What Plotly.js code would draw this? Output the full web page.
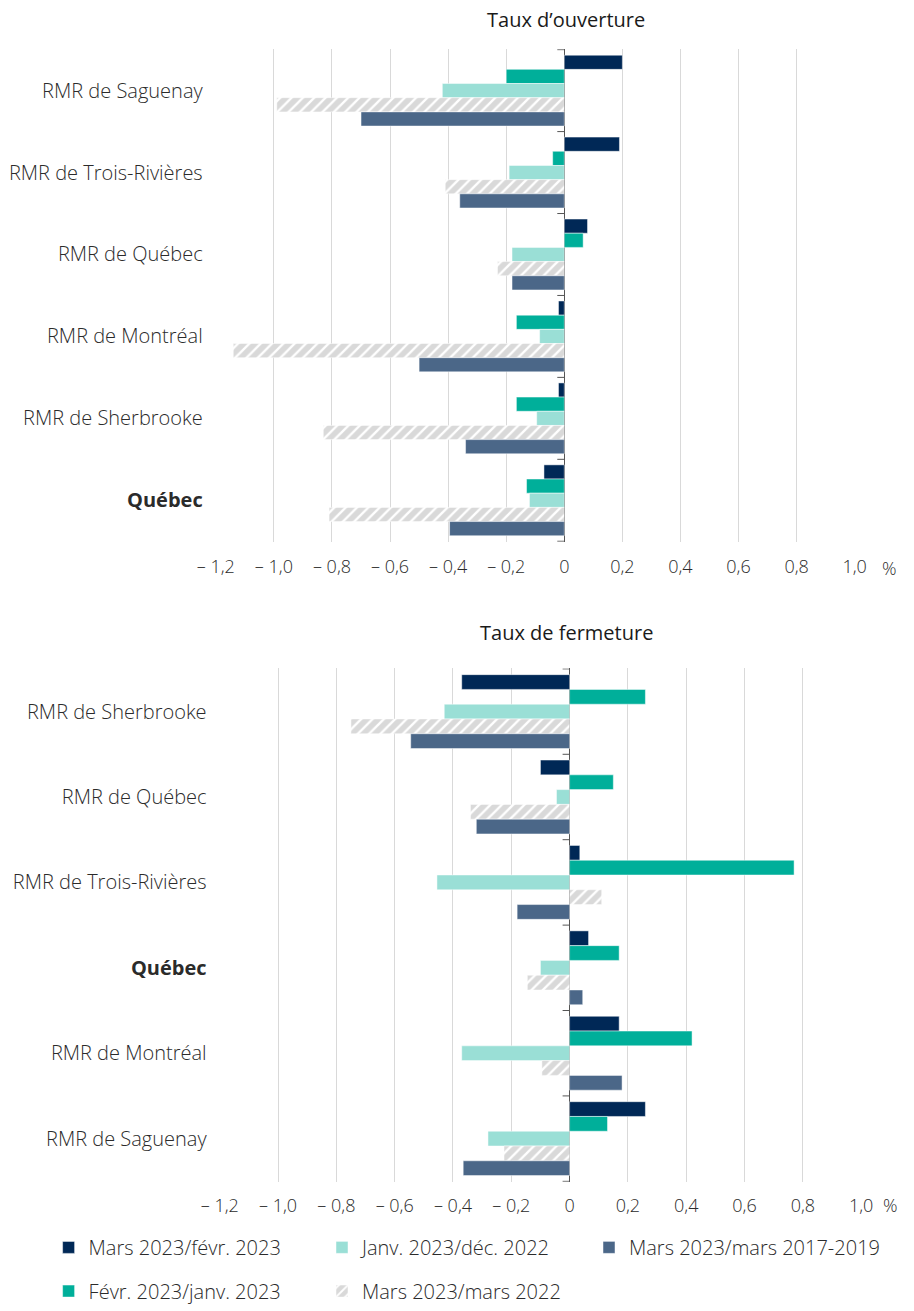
<!DOCTYPE html>
<html>
<head>
<meta charset="utf-8">
<script src="https://cdn.plot.ly/plotly-3.0.1.min.js"></script>
<style>html,body{margin:0;padding:0;background:#fff;overflow:hidden;}#chart{width:914px;height:1311px;}</style>
</head>
<body>
<div id="chart"></div>
<script>
// ---- Data ----
const seriesNames = ["Mars 2023/févr. 2023", "Févr. 2023/janv. 2023", "Janv. 2023/déc. 2022", "Mars 2023/mars 2022", "Mars 2023/mars 2017-2019"];

const topTitle = "Taux d’ouverture";
const topCategories = ["RMR de Saguenay", "RMR de Trois-Rivières", "RMR de Québec", "RMR de Montréal", "RMR de Sherbrooke", "Québec"];
const topMarsFevr = [0.20, 0.19, 0.08, -0.02, -0.02, -0.07];
const topFevrJanv = [-0.20, -0.04, 0.065, -0.165, -0.165, -0.13];
const topJanvDec = [-0.42, -0.19, -0.18, -0.085, -0.095, -0.12];
const topMarsMars22 = [-0.99, -0.41, -0.23, -1.14, -0.83, -0.81];
const topMars1719 = [-0.70, -0.36, -0.18, -0.50, -0.34, -0.395];

const botTitle = "Taux de fermeture";
const botCategories = ["RMR de Sherbrooke", "RMR de Québec", "RMR de Trois-Rivières", "Québec", "RMR de Montréal", "RMR de Saguenay"];
const botMarsFevr = [-0.37, -0.10, 0.035, 0.065, 0.17, 0.26];
const botFevrJanv = [0.26, 0.15, 0.77, 0.17, 0.42, 0.13];
const botJanvDec = [-0.43, -0.045, -0.455, -0.10, -0.37, -0.28];
const botMarsMars22 = [-0.75, -0.34, 0.11, -0.145, -0.095, -0.225];
const botMars1719 = [-0.545, -0.32, -0.18, 0.045, 0.18, -0.365];

const xTickVals = [-1.2, -1.0, -0.8, -0.6, -0.4, -0.2, 0, 0.2, 0.4, 0.6, 0.8, 1.0];
const xTickText = ["– 1,2", "– 1,0", "– 0,8", "– 0,6", "– 0,4", "– 0,2", "0", "0,2", "0,4", "0,6", "0,8", "1,0"];
const boldCategory = "Québec";

// ---- Styles ----
const FONT = "'Open Sans', 'Noto Sans', sans-serif";
const TXT = "#2b2b2b";
const colors = ["#002856", "#00AF9A", "#9ADFD6", "#D9D9D9", "#4B6788"];
// one legend box per entry: [legend id, symbol-centre x px, row centre y px]
const legendIds = ["legend", "legend4", "legend2", "legend5", "legend3"];
const legendPos = [[68.6, 1256], [68.6, 1300], [342, 1256], [342, 1300], [609, 1256]];

function makeMarker(i) {
  const m = { color: colors[i], line: { color: "rgba(255,255,255,0.8)", width: 0.6 } };
  if (i === 3) {
    m.pattern = { shape: "/", fgcolor: "#ffffff", bgcolor: "#D9D9D9", size: 8, solidity: 0.3, fillmode: "replace" };
  }
  return m;
}

const topSeries = [topMarsFevr, topFevrJanv, topJanvDec, topMarsMars22, topMars1719];
const botSeries = [botMarsFevr, botFevrJanv, botJanvDec, botMarsMars22, botMars1719];

const traces = [];
topSeries.forEach((vals, i) => {
  traces.push({
    type: "bar", orientation: "h", x: vals, y: topCategories,
    name: seriesNames[i], marker: makeMarker(i),
    xaxis: "x", yaxis: "y", legend: legendIds[i], showlegend: true,
    hoverinfo: "x+y+name"
  });
});
botSeries.forEach((vals, i) => {
  traces.push({
    type: "bar", orientation: "h", x: vals, y: botCategories,
    name: seriesNames[i], marker: makeMarker(i),
    xaxis: "x2", yaxis: "y2", showlegend: false, legend: legendIds[i],
    hoverinfo: "x+y+name"
  });
});

const W = 914, H = 1311;
const px = v => v / W;
const py = v => (H - v) / H;

function yTickText(cats) {
  return cats.map(c => c === boldCategory ? "<b>" + c + "</b>" : c);
}

function xAxis(domain, anchor, tl) {
  return {
    domain: domain, anchor: anchor,
    range: [-1.2005, 1.0005], fixedrange: true,
    tickmode: "array", tickvals: xTickVals, ticktext: xTickText,
    showgrid: true, gridcolor: "#D9D9D9", gridwidth: 1,
    zeroline: true, zerolinecolor: "#555555", zerolinewidth: 1,
    showline: false, ticks: "outside", ticklen: tl, tickcolor: "rgba(0,0,0,0)",
    tickfont: { family: FONT, size: 18, color: TXT, weight: 300 }
  };
}
function yAxis(domain, anchor, cats) {
  return {
    domain: domain, anchor: anchor, type: "category",
    categoryorder: "array", categoryarray: cats,
    autorange: "reversed", fixedrange: true,
    tickmode: "array", tickvals: cats, ticktext: yTickText(cats),
    showgrid: false, zeroline: false, showline: false,
    ticks: "outside", ticklen: 8, tickcolor: "rgba(0,0,0,0)",
    tickfont: { family: FONT, size: 20, color: TXT, weight: 300 }
  };
}

// tick marks on the zero line at category boundaries
const shapes = [];
function boundaryTicks(cats, xref, yref) {
  for (let i = 0; i <= cats.length; i++) {
    shapes.push({
      type: "line", xref: xref, yref: yref, xsizemode: "pixel", xanchor: 0,
      x0: -7, x1: 0, y0: i - 0.5, y1: i - 0.5,
      line: { color: "#555555", width: 1 }
    });
  }
}
boundaryTicks(topCategories, "x", "y");
boundaryTicks(botCategories, "x2", "y2");

const titleFont = { family: FONT, size: 20, color: "#1a1a1a" };
const pctFont = { family: FONT, size: 18, color: TXT, weight: 300 };
const annotations = [
  { xref: "paper", yref: "paper", x: px(566), y: py(20), text: topTitle, showarrow: false,
    xanchor: "center", yanchor: "middle", font: titleFont },
  { xref: "paper", yref: "paper", x: px(566), y: py(637), text: botTitle, showarrow: false,
    xanchor: "center", yanchor: "middle", font: titleFont },
  { xref: "paper", yref: "paper", x: px(889), y: py(572), text: "%", showarrow: false,
    xanchor: "center", yanchor: "middle", font: pctFont },
  { xref: "paper", yref: "paper", x: px(890), y: py(1213), text: "%", showarrow: false,
    xanchor: "center", yanchor: "middle", font: pctFont }
];

const layout = {
  width: W, height: H,
  margin: { l: 0, r: 0, t: 0, b: 0 },
  paper_bgcolor: "#ffffff", plot_bgcolor: "#ffffff",
  barmode: "group", bargap: 0.135, bargroupgap: 0,
  font: { family: FONT, color: TXT },
  xaxis: xAxis([px(215.7), px(854.8)], "y", 9),
  yaxis: yAxis([py(545.5), py(49.5)], "x", topCategories),
  xaxis2: xAxis([px(219.6), px(861.3)], "y2", 8),
  yaxis2: yAxis([py(1190), py(673)], "x2", botCategories),
  shapes: shapes,
  annotations: annotations,
  showlegend: true
};
legendIds.forEach((id, i) => {
  layout[id] = {
    orientation: "h", xanchor: "left", yanchor: "middle",
    x: px(legendPos[i][0] - 20), y: py(legendPos[i][1]),
    font: { family: FONT, size: 20, color: TXT, weight: 300 },
    bgcolor: "rgba(0,0,0,0)", borderwidth: 0
  };
});

Plotly.newPlot("chart", traces, layout, { staticPlot: true, displayModeBar: false });
</script>
</body>
</html>
